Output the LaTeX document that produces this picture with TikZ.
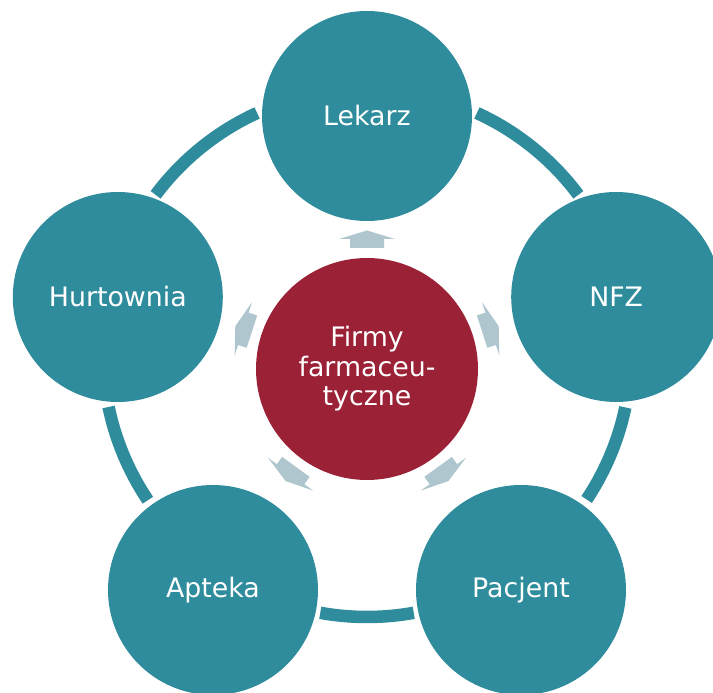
\documentclass[tikz,border=0pt]{standalone}
\usepackage{fontspec}
\setmainfont{DejaVu Sans}
\definecolor{tealc}{HTML}{2F8C9D}
\definecolor{redc}{HTML}{9B2136}
\definecolor{arrowc}{HTML}{AFC6CE}
\tikzset{
  ring/.style={draw=tealc, line width=12.5pt, line cap=butt},
  outer/.style={circle, fill=tealc, minimum size=210pt, inner sep=0pt, text=white, font=\fontsize{26.8}{30}\selectfont},
  inner/.style={circle, fill=redc, minimum size=222pt, inner sep=0pt, text=white, align=center, font=\fontsize{26.8}{29.5}\selectfont},
  blockarrow/.style={fill=arrowc}
}
\begin{document}
\begin{tikzpicture}[x=1pt,y=1pt]
\useasboundingbox (0,0) rectangle (713,693);
\clip (0,0) rectangle (713,693);
\coordinate (rc) at (367,340);
\foreach \a/\b in {114.6/143.2, 36.8/65.4, -33.7/-11.9, -100.2/-79.8, 191.8/213.9}
  \draw[ring] ([shift={(\a:264)}]rc) arc[start angle=\a, end angle=\b, radius=264];
\node[outer] (lek) at (367,577) {Lekarz};
\node[outer] (nfz) at (616.2,396) {NFZ};
\node[outer] (pac) at (521,103) {Pacjent};
\node[outer] (apt) at (213,103) {Apteka};
\node[outer] (hur) at (117.8,396) {Hurtownia};
\node[inner] (firm) at (367,324) {Firmy\\farmaceu-\\tyczne};
\foreach \t in {90,18,-54,-126,162}
  \fill[blockarrow, shift={(firm.center)}, rotate=\t] (121,-17) -- (130,-17) -- (130,-28) -- (138.5,0) -- (130,28) -- (130,17) -- (121,17) -- cycle;
\end{tikzpicture}
\end{document}
